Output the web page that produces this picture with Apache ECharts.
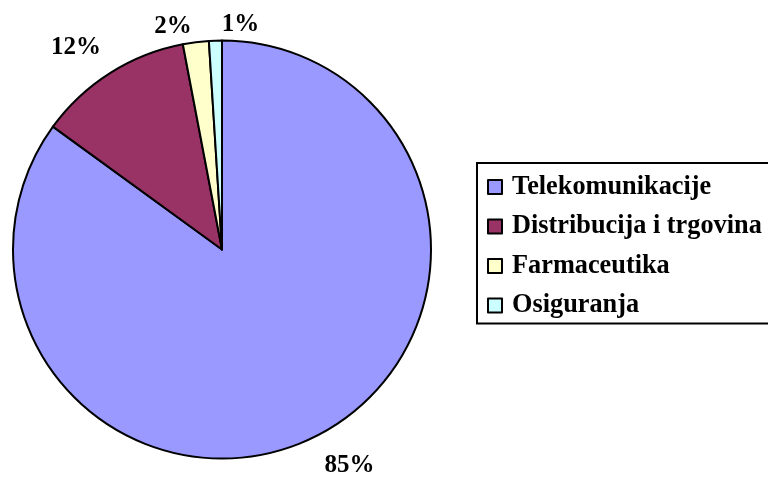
<!DOCTYPE html>
<html>
<head>
<meta charset="utf-8">
<script src="https://cdn.jsdelivr.net/npm/echarts@6/dist/echarts.min.js"></script>
<style>
html,body{margin:0;padding:0;background:#fff;}
#chart{width:768px;height:477px;}
</style>
</head>
<body>
<div id="chart"></div>
<script>
const categories = ['Telekomunikacije', 'Distribucija i trgovina', 'Farmaceutika', 'Osiguranja'];
const values = [85, 12, 2, 1];
const colors = ['#9999FF', '#993366', '#FFFFCC', '#CCFFFF'];
// per-label nudges (styling only), in px
const labelNudge = [[19, 3], [-18, 0], [-19, 14], [26, 14]];

const chart = echarts.init(document.getElementById('chart'), null, {renderer: 'canvas'});
const font = '"Liberation Serif", "Times New Roman", serif';

chart.setOption({
  animation: false,
  color: colors,
  legend: {
    orient: 'vertical',
    left: 477,
    top: 163,
    padding: [9, 20, 3, 10],
    borderColor: '#000',
    borderWidth: 2,
    itemWidth: 14,
    itemHeight: 14,
    itemGap: 9.5,
    icon: 'rect',
    itemStyle: {borderColor: '#000', borderWidth: 2},
    textStyle: {
      fontFamily: font,
      fontWeight: 'bold',
      fontSize: 26.3,
      lineHeight: 30,
      color: '#000',
      padding: [0, 0, 0, 5]
    },
    data: categories
  },
  series: [{
    type: 'pie',
    center: [222, 249.5],
    radius: 209,
    startAngle: 90,
    clockwise: true,
    avoidLabelOverlap: false,
    itemStyle: {borderColor: '#000', borderWidth: 2},
    emphasis: {disabled: true},
    label: {
      show: true,
      position: 'outside',
      formatter: p => Math.round(p.percent) + '%',
      fontFamily: font,
      fontWeight: 'bold',
      fontSize: 25,
      color: '#000'
    },
    labelLine: {show: false, length: 30, length2: 0},
    labelLayout: function (params) {
      const pts = params.labelLinePoints;
      const n = labelNudge[params.dataIndex] || [0, 0];
      return {
        x: pts[1][0] + n[0],
        y: pts[1][1] + n[1],
        align: 'center',
        verticalAlign: 'middle',
        hideOverlap: false,
        moveOverlap: null
      };
    },
    data: categories.map((c, i) => ({name: c, value: values[i]}))
  }]
});
</script>
</body>
</html>
